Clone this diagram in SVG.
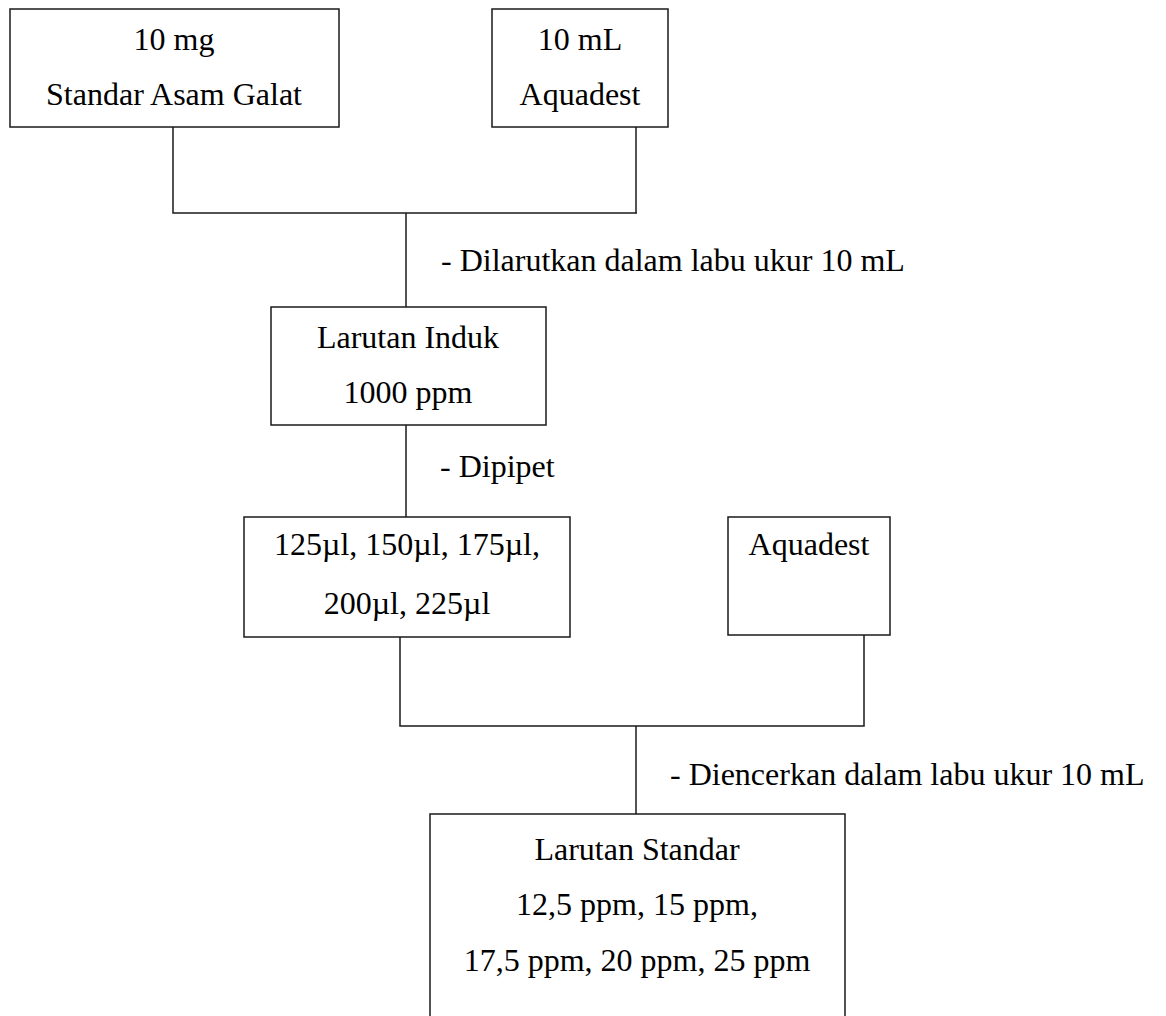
<svg xmlns="http://www.w3.org/2000/svg" width="1166" height="1016" viewBox="0 0 1166 1016">
  <style>
    .box { fill: #ffffff; stroke: #1a1a1a; stroke-width: 1.5; }
    .link { fill: none; stroke: #1a1a1a; stroke-width: 1.5; }
    text { font-family: "Liberation Serif", "Times New Roman", serif; font-size: 32px; fill: #000000; }
    .c { text-anchor: middle; }
  </style>
  <rect width="1166" height="1016" fill="#ffffff"/>

  <!-- connectors -->
  <g id="connectors">
    <polyline class="link" points="173,127 173,213 637,213"/>
    <line class="link" x1="636" y1="127" x2="636" y2="213"/>
    <line class="link" x1="406" y1="213" x2="406" y2="307"/>
    <line class="link" x1="406" y1="425" x2="406" y2="517"/>
    <polyline class="link" points="400,637 400,726 864,726 864,635"/>
    <line class="link" x1="636" y1="726" x2="636" y2="814"/>
  </g>

  <!-- step labels -->
  <g id="labels">
    <text x="441" y="271">- Dilarutkan dalam labu ukur 10 mL</text>
    <text x="440" y="477">- Dipipet</text>
    <text x="670" y="785">- Diencerkan dalam labu ukur 10 mL</text>
  </g>

  <g id="node-asam-galat">
    <rect class="box" x="10" y="9" width="329" height="118"/>
    <text class="c" x="174" y="50">10 mg</text>
    <text class="c" x="174" y="105">Standar Asam Galat</text>
  </g>

  <g id="node-aquadest-1">
    <rect class="box" x="492" y="9" width="176" height="118"/>
    <text class="c" x="580" y="50">10 mL</text>
    <text class="c" x="580" y="105">Aquadest</text>
  </g>

  <g id="node-larutan-induk">
    <rect class="box" x="271" y="307" width="275" height="118"/>
    <text class="c" x="408" y="348">Larutan Induk</text>
    <text class="c" x="408" y="403">1000 ppm</text>
  </g>

  <g id="node-volume">
    <rect class="box" x="244" y="517" width="326" height="120"/>
    <text class="c" x="407" y="555">125µl, 150µl, 175µl,</text>
    <text class="c" x="407" y="614">200µl, 225µl</text>
  </g>

  <g id="node-aquadest-2">
    <rect class="box" x="728" y="517" width="162" height="118"/>
    <text class="c" x="809" y="555">Aquadest</text>
  </g>

  <g id="node-larutan-standar">
    <rect class="box" x="430" y="814" width="415" height="230"/>
    <text class="c" x="637" y="860">Larutan Standar</text>
    <text class="c" x="637" y="915">12,5 ppm, 15 ppm,</text>
    <text class="c" x="637" y="971">17,5 ppm, 20 ppm, 25 ppm</text>
  </g>
</svg>
